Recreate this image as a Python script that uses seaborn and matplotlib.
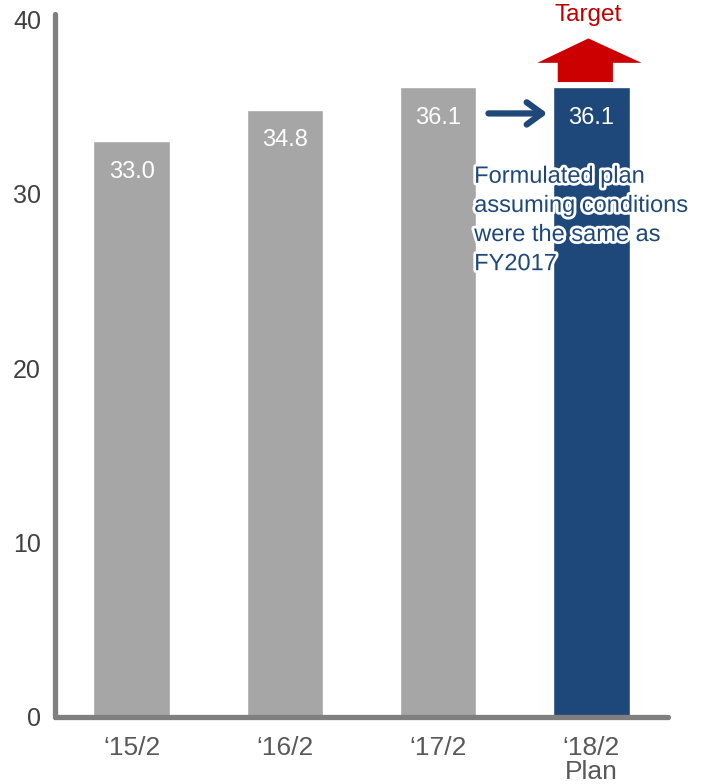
import matplotlib
matplotlib.use("Agg")
import matplotlib.pyplot as plt
import matplotlib.patheffects as pe
from matplotlib.patches import Polygon, FancyArrowPatch
import seaborn as sns
import pandas as pd

# Data
categories = ["\u201815/2", "\u201816/2", "\u201817/2", "\u201818/2\nPlan"]
values = [33.0, 34.8, 36.1, 36.1]
bar_colors = ["#A6A6A6", "#A6A6A6", "#A6A6A6", "#1F487A"]
y_ticks = [0, 10, 20, 30, 40]
note = "Formulated plan\nassuming conditions\nwere the same as\nFY2017"

sns.set_theme(style="white")
plt.rcParams["font.family"] = ["Liberation Sans", "DejaVu Sans"]

fig = plt.figure(figsize=(7.04, 7.84), dpi=100)
ax = fig.add_axes([0.078, 1 - 717 / 784, 0.871, (717 - 14) / 784])

df = pd.DataFrame({"period": categories, "value": values})
sns.barplot(data=df, x="period", y="value", hue="period", palette=bar_colors,
            width=0.5, legend=False, ax=ax, saturation=1)

ax.set_xlim(-0.5, 3.5)
ax.set_ylim(0, 40.3)
ax.set_yticks(y_ticks)
ax.set_xlabel("")
ax.set_ylabel("")

for s in ["top", "right"]:
    ax.spines[s].set_visible(False)
for s in ["left", "bottom"]:
    ax.spines[s].set_color("#7F7F7F")
    ax.spines[s].set_linewidth(3.8)
    ax.spines[s].set_capstyle("round")

ax.tick_params(axis="y", length=0, pad=10, labelsize=18, labelcolor="#404040")
ax.tick_params(axis="x", length=0, pad=14, labelsize=19, labelcolor="#595959")
for lbl in ax.get_xticklabels():
    lbl.set_linespacing(1.0)

# Value labels inside the bars
for i, v in enumerate(values):
    ax.text(i, v - 1.75, f"{v:.1f}", ha="center", va="center",
            color="white", fontsize=17)

# Arrow from FY2017 to the plan
plan = values[3]
arr = FancyArrowPatch((2.31, plan - 1.5), (2.73, plan - 1.5),
                      arrowstyle="->,head_length=11,head_width=8",
                      mutation_scale=1, color="#1F487A", lw=4.5,
                      capstyle="round", joinstyle="round")
ax.add_patch(arr)

# Target block arrow above the plan bar
sh_l, sh_r = 2.78, 3.14
hd_l, hd_r, tip = 2.647, 3.327, 2.98
base = plan + 0.3
neck = plan + 1.4
top = plan + 2.8
up = Polygon([(sh_l, base), (sh_r, base), (sh_r, neck), (hd_r, neck),
              (tip, top), (hd_l, neck), (sh_l, neck)],
             closed=True, color="#CC0000", clip_on=False, lw=0)
ax.add_patch(up)
ax.text(tip, top + 0.7, "Target", ha="center", va="bottom",
        color="#C00000", fontsize=17.5, clip_on=False)

# Note next to the plan bar
ax.text(2.235, 31.6, note, ha="left", va="top", color="#1F487A",
        fontsize=17, linespacing=1.42,
        path_effects=[pe.withStroke(linewidth=4, foreground="white")])

fig.savefig("out.png", dpi=100)
